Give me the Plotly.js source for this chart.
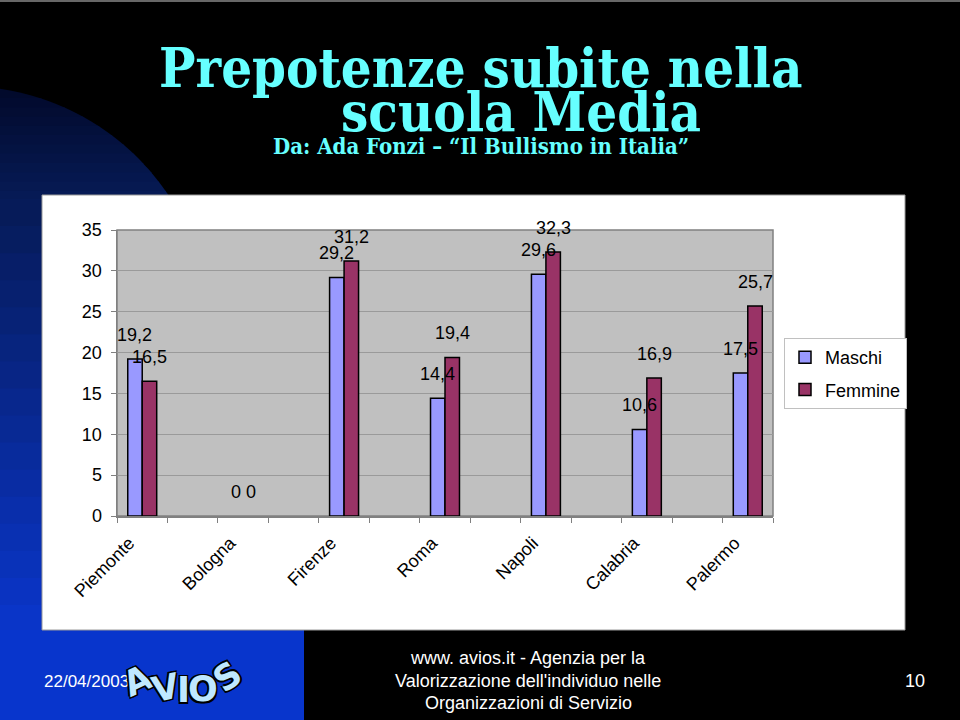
<!DOCTYPE html>
<html>
<head>
<meta charset="utf-8">
<script src="https://cdn.plot.ly/plotly-3.0.1.min.js"></script>
<style>
  html, body { margin: 0; padding: 0; background: #000; }
  #chart { width: 960px; height: 720px; }
</style>
</head>
<body>
<div id="chart"></div>
<script>
// ---- data ----
const categories = ['Piemonte', 'Bologna', 'Firenze', 'Roma', 'Napoli', 'Calabria', 'Palermo'];
const maschi = [19.2, 0, 29.2, 14.4, 29.6, 10.6, 17.5];
const femmine = [16.5, 0, 31.2, 19.4, 32.3, 16.9, 25.7];
const seriesNames = ['Maschi', 'Femmine'];
const yTickVals = [0, 5, 10, 15, 20, 25, 30, 35];

const titleLine1 = 'Prepotenze subite nella';
const titleLine2 = 'scuola Media';
const subtitle = 'Da: Ada Fonzi \u2013 \u201cIl Bullismo in Italia\u201d';
const footerLines = ["www. avios.it - Agenzia per la", "Valorizzazione dell'individuo nelle", "Organizzazioni di Servizio"];
const footerDate = '22/04/2003';
const pageNumber = '10';
const logoLetters = ['A', 'V', 'I', 'O', 'S'];

// ---- geometry helpers (pixel -> paper) ----
const W = 960, H = 720;
const PL = 117, PR = 773, PT = 230, PB = 516;
const px = x => (x - PL) / (PR - PL);
const py = y => (PB - y) / (PB - PT);

const xPos = categories.map((c, i) => i);
const fmt = v => String(v).replace('.', ',');
const edge = arr => arr.map(v => (v > 0 ? 1.5 : 0));

const traces = [
  {
    type: 'bar', name: seriesNames[0], x: xPos, y: maschi, legendgroup: 'a',
    marker: { color: '#9999ff', line: { color: '#000', width: edge(maschi) } },
    hoverinfo: 'skip'
  },
  {
    type: 'bar', name: seriesNames[1], x: xPos, y: femmine, legendgroup: 'b',
    marker: { color: '#993366', line: { color: '#000', width: edge(femmine) } },
    hoverinfo: 'skip'
  }
];

const labelFont = { family: 'Liberation Sans, Arial, sans-serif', size: 18, color: '#000' };
const annotations = [];
maschi.forEach((v, i) => annotations.push({
  x: xPos[i], y: v, xref: 'x', yref: 'y', text: fmt(v), showarrow: false,
  xshift: -7.5, yshift: 24, font: labelFont
}));
femmine.forEach((v, i) => annotations.push({
  x: xPos[i], y: v, xref: 'x', yref: 'y', text: fmt(v), showarrow: false,
  xshift: 7.5, yshift: 24, font: labelFont
}));

const titleFont = { family: 'DejaVu Serif Condensed, DejaVu Serif, serif', size: 54, color: '#66ffff', weight: 700 };
annotations.push({ xref: 'paper', yref: 'paper', x: px(480), y: py(68), text: titleLine1, showarrow: false, font: titleFont, xanchor: 'center', yanchor: 'middle' });
annotations.push({ xref: 'paper', yref: 'paper', x: px(521), y: py(112), text: titleLine2, showarrow: false, font: titleFont, xanchor: 'center', yanchor: 'middle' });
annotations.push({ xref: 'paper', yref: 'paper', x: px(481), y: py(146), text: subtitle, showarrow: false,
  font: { family: 'DejaVu Serif Condensed, DejaVu Serif, serif', size: 22, color: '#66ffff', weight: 700 }, xanchor: 'center', yanchor: 'middle' });

const footFont = { family: 'Liberation Sans, Arial, sans-serif', size: 18, color: '#fff' };
footerLines.forEach((t, i) => annotations.push({
  xref: 'paper', yref: 'paper', x: px(528), y: py(658 + i * 22.5), text: t, showarrow: false, font: footFont, xanchor: 'center', yanchor: 'middle'
}));
annotations.push({ xref: 'paper', yref: 'paper', x: px(42), y: py(681), text: footerDate, showarrow: false,
  font: { family: 'Liberation Sans, Arial, sans-serif', size: 17, color: '#fff' }, xanchor: 'left', yanchor: 'middle' });
annotations.push({ xref: 'paper', yref: 'paper', x: px(915), y: py(681), text: pageNumber, showarrow: false, font: footFont, xanchor: 'center', yanchor: 'middle' });

const logoX = [137, 165, 183, 203, 227];
const logoY = [681, 688, 690, 689, 677];
const logoRot = [-25, -12, 0, 0, -35];
logoLetters.forEach((L, i) => annotations.push({
  xref: 'paper', yref: 'paper', x: px(logoX[i]), y: py(logoY[i]), text: '<b>' + L + '</b>', showarrow: false,
  textangle: logoRot[i], xanchor: 'center', yanchor: 'middle',
  font: { family: 'DejaVu Sans, sans-serif', size: 35, color: '#bfe8ff',
          shadow: '1.5px 1.5px 0 #000, -1.5px -1.5px 0 #000, 1.5px -1.5px 0 #000, -1.5px 1.5px 0 #000' }
}));

// ---- background decoration (gradient bands) ----
const mix = (c1, c2, t) => {
  const a = c1.match(/\w\w/g).map(h => parseInt(h, 16));
  const b = c2.match(/\w\w/g).map(h => parseInt(h, 16));
  return 'rgb(' + a.map((v, k) => Math.round(v + (b[k] - v) * t)).join(',') + ')';
};
const shapes = [];
// arc on the upper left (circle centre -36,332 radius 246), banded vertical gradient
const CX = -36, CY = 332, R = 246;
const arcX = y => CX + Math.sqrt(Math.max(0, R * R - (y - CY) * (y - CY)));
const arcTop = CY - Math.sqrt(R * R - CX * CX);
const nA = 12;
for (let k = 0; k < nA; k++) {
  const y0 = arcTop + (200 - arcTop) * k / nA;
  const y1 = arcTop + (200 - arcTop) * (k + 1) / nA + (k < nA - 1 ? 1.2 : 0);
  let d = 'M' + px(0) + ',' + py(y0);
  for (let s = 0; s <= 6; s++) { const yy = y0 + (y1 - y0) * s / 6; d += ' L' + px(arcX(yy)) + ',' + py(yy); }
  d += ' L' + px(0) + ',' + py(y1) + ' Z';
  shapes.push({ type: 'path', xref: 'paper', yref: 'paper', layer: 'below', path: d,
    fillcolor: mix('020a2c', '061a55', k / (nA - 1)), line: { width: 0 } });
}
// left strip gradient
const nS = 16;
for (let k = 0; k < nS; k++) {
  const y0 = 199 + (632 - 199) * k / nS, y1 = 199 + (632 - 199) * (k + 1) / nS + 1.2;
  shapes.push({ type: 'rect', xref: 'paper', yref: 'paper', layer: 'below',
    x0: px(0), x1: px(44), y0: py(y1), y1: py(y0), fillcolor: mix('061a55', '0a36cc', (k + 0.5) / nS), line: { width: 0 } });
}
shapes.push(
  // bottom left bright blue block
  { type: 'rect', xref: 'paper', yref: 'paper', layer: 'below',
    x0: px(0), x1: px(304), y0: py(720), y1: py(630), fillcolor: '#0835cc', line: { width: 0 } },
  // top slide edge
  { type: 'line', xref: 'paper', yref: 'paper', layer: 'below',
    x0: px(0), x1: px(960), y0: py(1), y1: py(1), line: { color: '#8a8a8a', width: 1.5 } },
  // white panel
  { type: 'rect', xref: 'paper', yref: 'paper', layer: 'below',
    x0: px(42), x1: px(905), y0: py(630), y1: py(195), fillcolor: '#ffffff', line: { color: '#9a9a9a', width: 1 } },
  // plot area gray
  { type: 'rect', xref: 'paper', yref: 'paper', layer: 'below',
    x0: 0, x1: 1, y0: 0, y1: 1, fillcolor: '#c0c0c0', line: { color: '#808080', width: 1.5 } }
);

const layout = {
  width: W, height: H,
  margin: { l: PL, r: W - PR, t: PT, b: H - PB, autoexpand: false },
  paper_bgcolor: '#000000',
  plot_bgcolor: 'rgba(0,0,0,0)',
  barmode: 'group', bargap: 0.713, bargroupgap: 0,
  showlegend: true,
  legend: {
    x: px(784), y: py(338), xanchor: 'left', yanchor: 'top',
    bgcolor: '#ffffff', bordercolor: '#c0c0c0', borderwidth: 1,
    font: { family: 'Liberation Sans, Arial, sans-serif', size: 18, color: '#000' },
    traceorder: 'grouped', tracegroupgap: 6, itemwidth: 30
  },
  xaxis: {
    type: 'linear', range: [-0.25, 6.25], fixedrange: true,
    tickmode: 'array', tickvals: xPos, ticktext: categories,
    ticks: '', showgrid: false, zeroline: false,
    showline: true, linecolor: '#808080', linewidth: 1.5,
    tickangle: -45, ticklabelshift: -13, ticklabelstandoff: 8,
    tickfont: { family: 'Liberation Sans, Arial, sans-serif', size: 18, color: '#000' },
    minor: { tickmode: 'linear', tick0: -0.25, dtick: 0.5, ticks: 'outside', ticklen: 5, tickwidth: 1, tickcolor: '#808080', showgrid: false }
  },
  yaxis: {
    range: [0, 35], fixedrange: true,
    tickmode: 'array', tickvals: yTickVals,
    ticks: 'outside', ticklen: 5, tickcolor: '#808080', tickwidth: 1,
    showgrid: true, gridcolor: '#9a9a9a', gridwidth: 1, zeroline: false,
    showline: true, linecolor: '#808080', linewidth: 1.5,
    ticklabelstandoff: 5,
    tickfont: { family: 'Liberation Sans, Arial, sans-serif', size: 18, color: '#000' }
  },
  shapes: shapes,
  annotations: annotations
};

Plotly.newPlot('chart', traces, layout, { staticPlot: true, displayModeBar: false });
</script>
</body>
</html>
